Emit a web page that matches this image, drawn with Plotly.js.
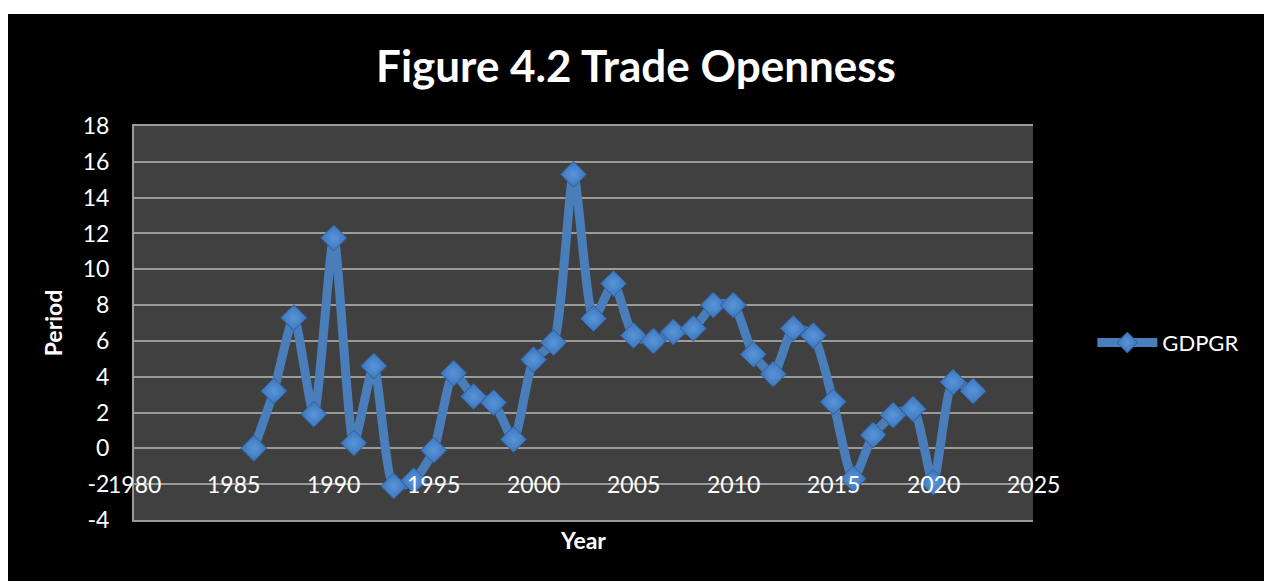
<!DOCTYPE html>
<html>
<head>
<meta charset="utf-8">
<script src="https://cdn.plot.ly/plotly-3.0.1.min.js"></script>
<style>
  html, body { margin: 0; padding: 0; background: #ffffff; width: 1264px; height: 581px; overflow: hidden; }
  #chart { position: absolute; left: 8px; top: 14px; width: 1256px; height: 567px; }
</style>
</head>
<body>
<div id="chart"></div>
<script>
const years = [1986,1987,1988,1989,1990,1991,1992,1993,1994,1995,1996,1997,1998,1999,
               2000,2001,2002,2003,2004,2005,2006,2007,2008,2009,2010,2011,2012,2013,
               2014,2015,2016,2017,2018,2019,2020,2021,2022];
const gdpgr = [0.0,3.2,7.3,1.9,11.75,0.3,4.6,-2.1,-1.8,-0.1,4.2,2.9,2.55,0.5,
               4.95,5.9,15.3,7.25,9.2,6.3,6.0,6.5,6.7,8.0,8.0,5.25,4.15,6.7,
               6.3,2.6,-1.7,0.75,1.85,2.2,-1.9,3.7,3.2];
const xTickVals = [1980,1985,1990,1995,2000,2005,2010,2015,2020,2025];
const yTickVals = [-4,-2,0,2,4,6,8,10,12,14,16,18];
const yTickText = ['-4','-2','0','2','4','6','8','10','12','14','16','18'];
const seriesName = 'GDPGR';
const chartTitle = 'Figure 4.2 Trade Openness';
const xTitle = 'Year';
const yTitle = 'Period';

const FONT = 'Lato, "Open Sans", sans-serif';
const grid = '#9a9a9a';

const trace = {
  x: years, y: gdpgr, name: seriesName, type: 'scatter', mode: 'lines+markers',
  line: { color: '#4a7ebb', width: 9, shape: 'spline', smoothing: 0.6 },
  marker: { symbol: 'diamond', size: 20, color: '#3a74bd',
            gradient: { type: 'radial', color: '#5b95d8' },
            line: { color: '#2f5f9c', width: 1 } },
  showlegend: true
};

const annotations = xTickVals.map(v => ({
  x: v, y: -2, xref: 'x', yref: 'y', text: String(v), showarrow: false,
  xanchor: 'center', yanchor: 'middle',
  font: { family: FONT, size: 23, color: '#ffffff' }
}));

const layout = {
  width: 1256, height: 567,
  paper_bgcolor: '#000000', plot_bgcolor: '#404040',
  margin: { l: 126, r: 231, t: 112, b: 61 },
  title: { text: '<b>' + chartTitle + '</b>', x: 0.5, xref: 'container', xanchor: 'center',
           y: 0.908, yref: 'container', yanchor: 'middle',
           font: { family: FONT, size: 44, color: '#ffffff' } },
  xaxis: { range: [1980, 2025], showgrid: false, zeroline: false, showticklabels: false,
           ticks: '', showline: true, mirror: true, linecolor: grid, linewidth: 2,
           title: { text: '<b>' + xTitle + '</b>', standoff: 12,
                    font: { family: FONT, size: 23, color: '#ffffff' } } },
  yaxis: { range: [-4, 18], tickvals: yTickVals, ticktext: yTickText,
           showgrid: true, gridcolor: grid, gridwidth: 2,
           zeroline: false, showline: true, linecolor: grid, linewidth: 2, ticks: '',
           ticklabelstandoff: 18,
           tickfont: { family: FONT, size: 23, color: '#ffffff' },
           title: { text: '<b>' + yTitle + '</b>', standoff: 14,
                    font: { family: FONT, size: 23, color: '#ffffff' } } },
  legend: { x: 1.066, xanchor: 'left', y: 0.45, yanchor: 'middle', bgcolor: 'rgba(0,0,0,0)',
            itemwidth: 60, font: { family: FONT, size: 22, color: '#ffffff' } },
  annotations: annotations
};

Plotly.newPlot('chart', [trace], layout, { displayModeBar: false, staticPlot: true });
</script>
</body>
</html>
